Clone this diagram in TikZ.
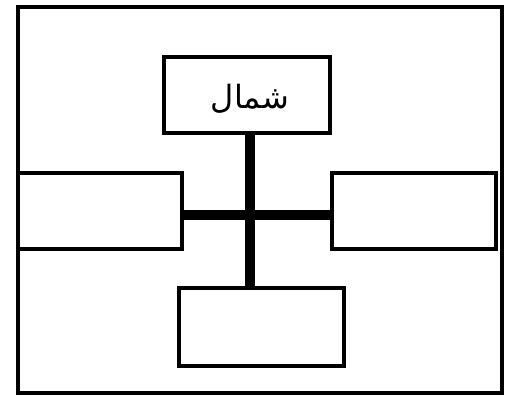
\documentclass[tikz,border=0pt]{standalone}
\usepackage{fontspec}
\newfontfamily\arabicfont[Script=Arabic]{DejaVu Sans}
\TeXXeTstate=1
\begin{document}
\begin{tikzpicture}[x=1pt,y=-1pt,
  box/.style={draw=black,line width=4pt,fill=white,inner sep=0pt},
  bar/.style={line width=10pt}]
\useasboundingbox (0,0) rectangle (509,397);
\node[draw=black,line width=4pt,minimum width=484pt,minimum height=386pt,inner sep=0pt] (frame) at (260,199.5) {};
\node[box,minimum width=166pt,minimum height=76pt] (top) at (247,95) {};
\node[inner sep=0pt] (toplabel) at (250,99) {\arabicfont\fontsize{32}{36}\selectfont\beginR شمال\endR};
\node[box,minimum width=164pt,minimum height=76pt] (left) at (100,211) {};
\node[box,minimum width=164pt,minimum height=76pt] (right) at (414,211) {};
\node[box,minimum width=165pt,minimum height=78pt] (bottom) at (261,327) {};
\coordinate (c) at (250,215);
\draw[bar] (top.south -| c) -- (bottom.north -| c);
\draw[bar] (left.east |- c) -- (right.west |- c);
\end{tikzpicture}
\end{document}
